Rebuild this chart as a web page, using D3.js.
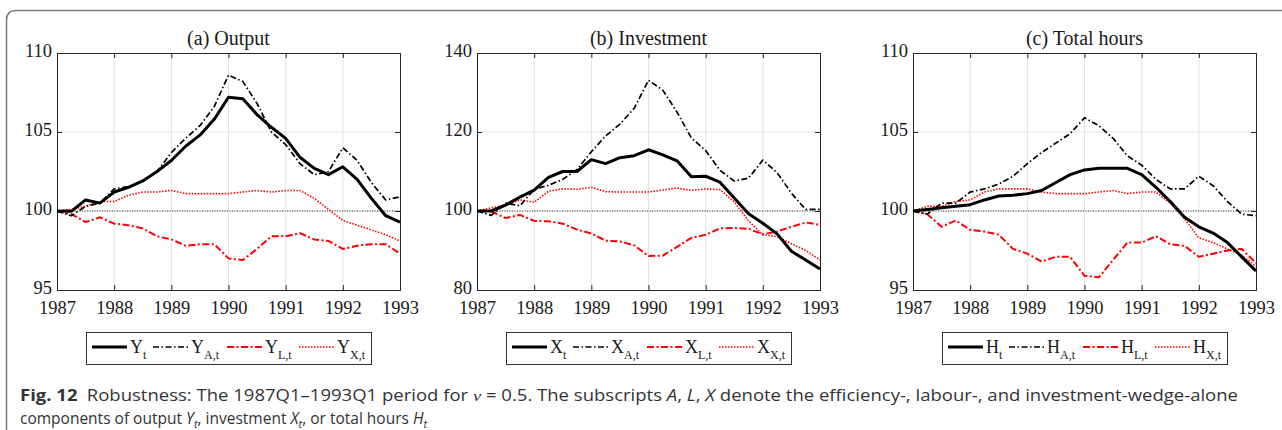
<!DOCTYPE html>
<html>
<head>
<meta charset="utf-8">
<script src="https://cdn.jsdelivr.net/npm/d3@7"></script>
<style>
  body { margin: 0; background: #fff; }
  svg { display: block; }
</style>
</head>
<body>
<svg id="chart"></svg>
<script>
// Quarters 1987Q1 .. 1993Q1
const quarters = ["1987Q1","1987Q2","1987Q3","1987Q4","1988Q1","1988Q2","1988Q3","1988Q4",
  "1989Q1","1989Q2","1989Q3","1989Q4","1990Q1","1990Q2","1990Q3","1990Q4",
  "1991Q1","1991Q2","1991Q3","1991Q4","1992Q1","1992Q2","1992Q3","1992Q4","1993Q1"];
const yearTicks = [1987, 1988, 1989, 1990, 1991, 1992, 1993];

// (a) Output
const outY  = [100,99.98,100.7,100.5,101.2,101.5,101.9,102.5,103.2,104.1,104.8,105.8,107.2,107.1,106.1,105.3,104.6,103.4,102.7,102.3,102.8,102.0,100.8,99.7,99.3];
const outYA = [100,99.7,100.3,100.5,101.4,101.55,101.9,102.5,103.7,104.6,105.4,106.6,108.6,108.2,106.8,105.0,104.2,103.0,102.3,102.5,104.0,103.2,101.8,100.7,100.9];
const outYL = [100,99.8,99.3,99.6,99.2,99.1,98.9,98.4,98.2,97.8,97.9,97.9,97.0,96.9,97.6,98.4,98.4,98.6,98.2,98.1,97.6,97.8,97.9,97.9,97.3];
const outYX = [100,100.1,100.3,100.6,100.6,101.0,101.2,101.2,101.3,101.1,101.1,101.1,101.1,101.2,101.3,101.2,101.3,101.3,100.8,100.1,99.4,99.1,98.8,98.5,98.1];

// (b) Investment
const invX  = [100,100,101.5,103.5,105.3,108.5,110,110,113,112,113.5,114,115.5,114.2,112.7,108.7,108.8,107.3,103.3,99.3,96.9,94.2,89.8,87.6,85.3];
const invXA = [100,98.9,102,101.3,105.5,106.5,108.0,110.5,115,119,122,126,133.1,130.6,125,118.5,115.3,110.3,107.6,108.3,112.9,109.7,104.5,100.4,100.4];
const invXL = [100,99.9,98.2,99.0,97.5,97.4,96.8,95.3,94.3,92.5,92.3,91.3,88.6,88.7,90.9,93.2,94.0,95.6,95.7,95.5,94.1,94.8,96.0,97.1,96.5];
const invXX = [100,100.8,101.5,102.8,102.2,105,105.6,105.5,106.0,104.9,104.8,104.8,104.8,105.3,105.8,105.2,105.6,105.4,102.3,97.5,94.0,93.5,91.7,90.0,87.6];

// (c) Total hours
const hrsH  = [100,100.1,100.2,100.3,100.4,100.7,100.95,101.0,101.1,101.3,101.8,102.3,102.6,102.7,102.7,102.7,102.3,101.5,100.6,99.6,99.0,98.6,98.0,97.1,96.2];
const hrsHA = [100,99.8,100.5,100.5,101.2,101.4,101.7,102.2,103.0,103.7,104.3,104.9,105.9,105.4,104.6,103.5,102.9,102.0,101.4,101.4,102.2,101.6,100.6,99.8,99.7];
const hrsHL = [100,99.8,99.0,99.4,98.8,98.7,98.5,97.6,97.3,96.8,97.1,97.1,95.9,95.8,96.9,98.0,98.0,98.4,97.9,97.8,97.1,97.3,97.5,97.6,96.7];
const hrsHX = [100,100.3,100.3,100.6,100.7,101.2,101.4,101.4,101.4,101.2,101.1,101.1,101.1,101.2,101.3,101.1,101.2,101.2,100.5,99.5,98.3,98.0,97.6,97.2,96.5];

const panelTitles = ["(a) Output", "(b) Investment", "(c) Total hours"];
const panelLetters = ["Y", "X", "H"];
const panelSeries = [[outY, outYA, outYL, outYX], [invX, invXA, invXL, invXX], [hrsH, hrsHA, hrsHL, hrsHX]];
const panelDomains = [[95, 110], [80, 140], [95, 110]];
const panelTicks = [[95, 100, 105, 110], [80, 100, 120, 140], [95, 100, 105, 110]];
const seriesSubs = ["t", "A,t", "L,t", "X,t"];

// line styles for the four components
const styles = [
  { color: "#000", width: 3, dash: null },
  { color: "#000", width: 1.7, dash: "6,2.5,1.5,2.5" },
  { color: "#f00", width: 2, dash: "7,2.5,2,2.5" },
  { color: "#f00", width: 1.6, dash: "1.5,1.5" }
];

const W = 1282, H = 430;
const plotLefts = [57, 477, 913];
const plotW = 343, plotTop = 53, plotBottom = 290;
const legendOffsets = [6, 67, 141, 213];
const serif = "'Liberation Serif', 'Times New Roman', serif";

const svg = d3.select("#chart").attr("width", W).attr("height", H);

// outer rounded frame
svg.append("path")
  .attr("d", `M6.5,430 L6.5,20 Q6.5,10.5 16,10.5 L1282,10.5`)
  .attr("fill", "none")
  .attr("stroke", "#777")
  .attr("stroke-width", 1.5);

const toDate = q => +q.slice(0, 4) + (+q.slice(5) - 1) / 4;

panelSeries.forEach((series, p) => {
  const x = d3.scaleLinear().domain([1987, 1993]).range([plotLefts[p], plotLefts[p] + plotW]);
  const y = d3.scaleLinear().domain(panelDomains[p]).range([plotBottom, plotTop]);
  const g = svg.append("g");

  // grid
  g.selectAll(".vg").data(yearTicks.slice(1, -1)).join("line")
    .attr("x1", d => x(d)).attr("x2", d => x(d))
    .attr("y1", plotTop).attr("y2", plotBottom)
    .attr("stroke", "#e3e3e3").attr("stroke-width", 1);
  g.selectAll(".hg").data(panelTicks[p].slice(1, -1)).join("line")
    .attr("x1", x(1987)).attr("x2", x(1993))
    .attr("y1", d => y(d)).attr("y2", d => y(d))
    .attr("stroke", "#e3e3e3").attr("stroke-width", 1);

  // dotted reference line at 100
  g.append("line")
    .attr("x1", x(1987)).attr("x2", x(1993))
    .attr("y1", y(100)).attr("y2", y(100))
    .attr("stroke", "#000").attr("stroke-width", 0.8)
    .attr("stroke-dasharray", "1,1.5");

  // axes (ticks drawn inward, mirrored)
  g.append("g").attr("transform", `translate(0,${plotBottom})`)
    .call(d3.axisBottom(x).tickValues(yearTicks).tickFormat(d3.format("d")).tickSize(-5).tickPadding(11));
  g.append("g").attr("transform", `translate(0,${plotTop})`)
    .call(d3.axisTop(x).tickValues(yearTicks).tickFormat("").tickSize(-5));
  const yAxis = g.append("g").attr("transform", `translate(${x(1987)},0)`)
    .call(d3.axisLeft(y).tickValues(panelTicks[p]).tickSize(-5).tickPadding(5));
  yAxis.selectAll(".tick text").attr("dy", "0.2em");
  g.append("g").attr("transform", `translate(${x(1993)},0)`)
    .call(d3.axisRight(y).tickValues(panelTicks[p]).tickFormat("").tickSize(-5));
  g.selectAll(".domain").attr("stroke", "#262626");
  g.selectAll(".tick line").attr("stroke", "#262626");
  g.selectAll(".tick text")
    .attr("font-family", serif)
    .attr("font-size", 18.5).attr("fill", "#1a1a1a");

  // series lines
  const line = d3.line().x((d, i) => x(toDate(quarters[i]))).y(d => y(d));
  [3, 2, 1, 0].forEach(k => {
    g.append("path")
      .datum(series[k])
      .attr("fill", "none")
      .attr("stroke", styles[k].color)
      .attr("stroke-width", styles[k].width)
      .attr("stroke-dasharray", styles[k].dash)
      .attr("stroke-linejoin", "round")
      .attr("d", line);
  });

  // title
  g.append("text")
    .attr("x", x(1990)).attr("y", 45)
    .attr("text-anchor", "middle")
    .attr("font-family", serif)
    .attr("font-size", 20).attr("fill", "#1a1a1a")
    .text(panelTitles[p]);

  // legend
  const lw = 285, lx = x(1990) - lw / 2, ly = 332;
  g.append("rect")
    .attr("x", lx + 0.5).attr("y", ly + 0.5).attr("width", lw).attr("height", 32)
    .attr("fill", "#fff").attr("stroke", "#333").attr("stroke-width", 1);
  seriesSubs.forEach((sub, k) => {
    const cx = lx + legendOffsets[k];
    g.append("line")
      .attr("x1", cx).attr("x2", cx + 35).attr("y1", ly + 15).attr("y2", ly + 15)
      .attr("stroke", styles[k].color)
      .attr("stroke-width", styles[k].width)
      .attr("stroke-dasharray", styles[k].dash);
    const t = g.append("text")
      .attr("x", cx + 38).attr("y", ly + 21)
      .attr("font-family", serif)
      .attr("font-size", 18).attr("fill", "#1a1a1a");
    t.append("tspan").text(panelLetters[p]);
    t.append("tspan").attr("font-size", 12).attr("dy", 6).text(sub);
  });
});

// caption
const capFont = "'Open Sans', 'Noto Sans', sans-serif";
const cap1 = svg.append("text")
  .attr("x", 20).attr("y", 401)
  .attr("font-family", capFont)
  .attr("font-size", 15.5).attr("fill", "#333")
  .attr("textLength", 1218).attr("lengthAdjust", "spacingAndGlyphs");
cap1.append("tspan").attr("font-weight", "bold").text("Fig. 12");
cap1.append("tspan").text("\u2002Robustness: The 1987Q1\u20131993Q1 period for ");
cap1.append("tspan").attr("font-style", "italic").attr("font-family", serif).text("\u03BD");
cap1.append("tspan").text(" = 0.5. The subscripts ");
cap1.append("tspan").attr("font-style", "italic").text("A");
cap1.append("tspan").text(", ");
cap1.append("tspan").attr("font-style", "italic").text("L");
cap1.append("tspan").text(", ");
cap1.append("tspan").attr("font-style", "italic").text("X");
cap1.append("tspan").text(" denote the efficiency-, labour-, and investment-wedge-alone");

const cap2 = svg.append("text")
  .attr("x", 20).attr("y", 424)
  .attr("font-family", capFont)
  .attr("font-size", 15.5).attr("fill", "#333");
[["components of output ", "n"], ["Y", "i"], ["t", "s"], [", investment ", "n"], ["X", "i"], ["t", "s"],
 [", or total hours ", "n"], ["H", "i"], ["t", "s"]].forEach(([s, f], i) => {
  const ts = cap2.append("tspan").text(s);
  if (f === "i") ts.attr("font-style", "italic");
  if (f === "s") ts.attr("font-style", "italic").attr("font-size", 11).attr("dy", 4);
  if (f === "n" && i > 0) ts.attr("dy", -4);
});
</script>
</body>
</html>
